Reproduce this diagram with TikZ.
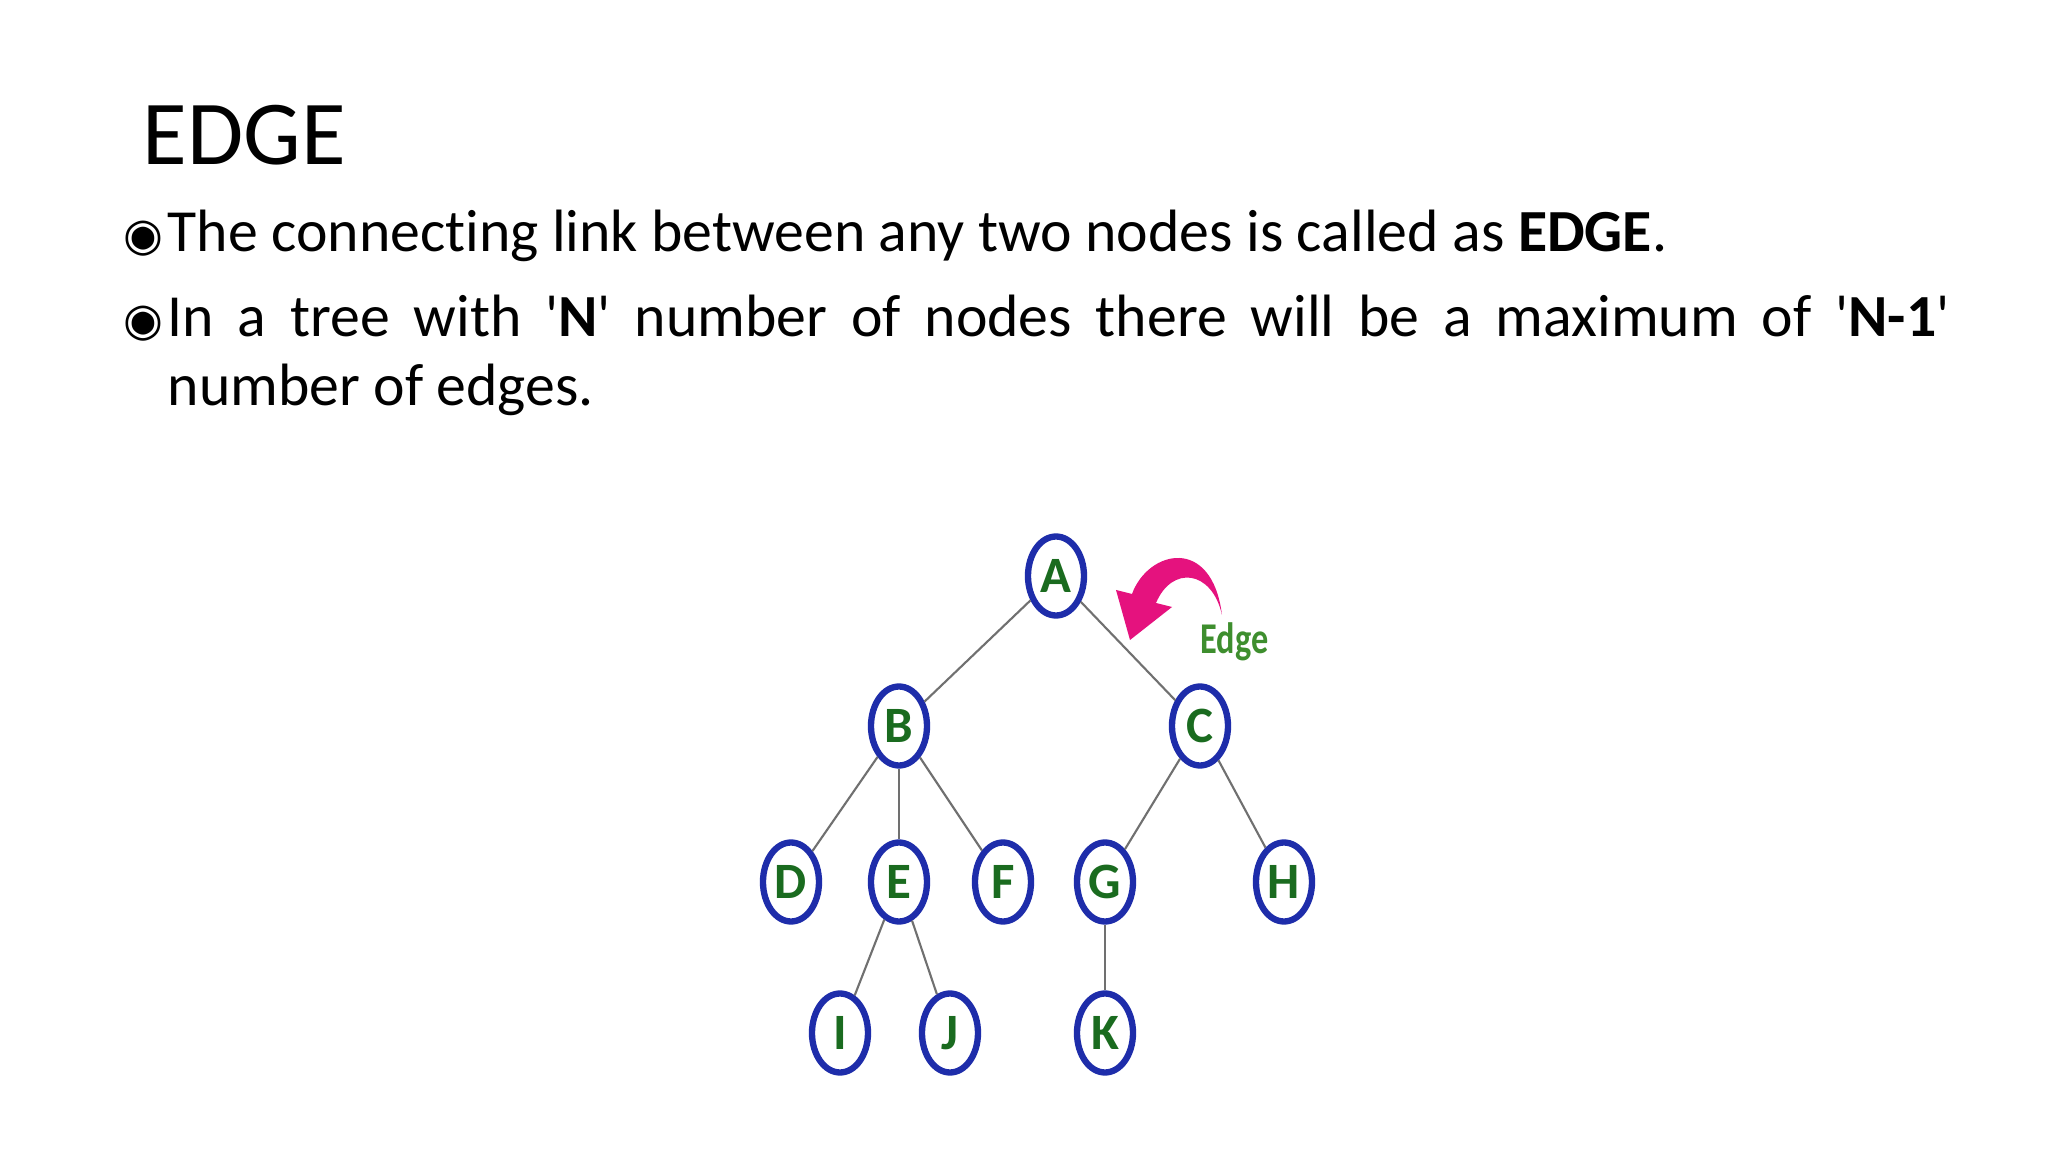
\documentclass[tikz,border=0pt]{standalone}
\usepackage{fontspec}
\usepackage{graphicx}
\setmainfont{Carlito}[Ligatures={TeX,NoCommon}]
\newfontfamily\bulletfont{DejaVu Sans}
\usetikzlibrary{positioning,shapes.geometric}
\definecolor{Ring}{HTML}{1E2DAA}
\definecolor{Leaf}{HTML}{1A6B1F}
\definecolor{Moss}{HTML}{3E8E2E}
\definecolor{Pink}{HTML}{E5127E}
\definecolor{Wire}{HTML}{707070}

\begin{document}
\begin{tikzpicture}[on grid,
    vert/.style={ellipse,draw=Ring,line width=1.8pt,fill=white,minimum width=5.6mm,minimum height=7.9mm,inner sep=0pt,text=Leaf,font=\fontsize{14.5}{14.5}\selectfont\bfseries},
    link/.style={draw=Wire,line width=0.6pt},
    para/.style={anchor=base west,inner sep=0pt,text width=17.82cm,align=justify,font=\fontsize{17}{19.4}\selectfont},
    dot/.style={inner sep=0pt,font=\bulletfont\fontsize{13}{13}\selectfont}]
    \fill[white] (0,0) rectangle (20.48,-11.52);
    \useasboundingbox (0,0) rectangle (20.48,-11.52);
    % heading and the two points
    \node[anchor=base west,inner sep=0pt,font=\fontsize{26}{30}\selectfont] (title) at (1.42,-1.65) {EDGE};
    \node[dot] (b1) at (1.43,-2.39) {◉};
    \node[para] (p1) at (1.67,-2.52) {The connecting link between any two nodes is called as \textbf{EDGE}.};
    \node[dot] (b2) at (1.43,-3.24) {◉};
    \node[para] (p2) at (1.67,-3.37) {In a tree with \textquotesingle\textbf{N}\textquotesingle{} number of nodes there will be a maximum of \textquotesingle\textbf{N-1}\textquotesingle\linebreak number of edges.};
    % the tree
    \node[vert] (A) at (10.56,-5.76) {A};
    \node[vert,below left=1.5cm and 1.57cm of A] (B) {B};
    \node[vert,below right=1.5cm and 1.44cm of A] (C) {C};
    \node[vert,below left=1.56cm and 1.08cm of B] (D) {D};
    \node[vert,below=1.56cm of B] (E) {E};
    \node[vert,below right=1.56cm and 1.04cm of B] (F) {F};
    \node[vert,below left=1.56cm and 0.95cm of C] (G) {G};
    \node[vert,below right=1.56cm and 0.84cm of C] (H) {H};
    \node[vert,below left=1.51cm and 0.59cm of E] (I) {I};
    \node[vert,below right=1.51cm and 0.51cm of E] (J) {J};
    \node[vert,below=1.51cm of G] (K) {K};
    \draw[link] (A) -- (B);
    \draw[link] (A) -- (C);
    \draw[link] (B) -- (D);
    \draw[link] (B) -- (E);
    \draw[link] (B) -- (F);
    \draw[link] (C) -- (G);
    \draw[link] (C) -- (H);
    \draw[link] (E) -- (I);
    \draw[link] (E) -- (J);
    \draw[link] (G) -- (K);
    % curved pointer and its label
    \fill[Pink] (11.32,-5.94) .. controls (11.48,-5.50) and (12.12,-5.35) .. (12.22,-6.15)
      .. controls (12.12,-5.70) and (11.72,-5.65) .. (11.56,-6.03) -- (11.72,-6.07) -- (11.30,-6.40) -- (11.16,-5.90) -- cycle;
    \node[anchor=base west,inner sep=0pt,text=Moss,font=\fontsize{12.5}{12.5}\selectfont\bfseries] (lbl) at (12.0,-6.53) {\scalebox{0.78}[1]{Edge}};
\end{tikzpicture}
\end{document}
